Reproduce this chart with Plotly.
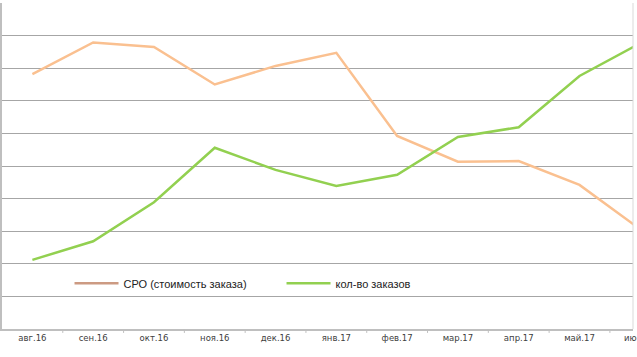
import plotly.graph_objects as go

months = ["авг.16", "сен.16", "окт.16", "ноя.16", "дек.16", "янв.17",
          "фев.17", "мар.17", "апр.17", "май.17", "июн.17"]
cpo = [7.82, 8.79, 8.65, 7.50, 8.07, 8.47, 5.92, 5.13, 5.15, 4.42, 3.06]
orders = [2.12, 2.69, 3.89, 5.56, 4.88, 4.39, 4.73, 5.89, 6.19, 7.76, 8.77]
name_cpo = "СРО (стоимость заказа)"
name_orders = "кол-во заказов"

x_idx = list(range(len(months)))
x_range = [-0.5, 9.88]

fig = go.Figure()
fig.add_trace(go.Scatter(x=x_idx, y=cpo, mode="lines", showlegend=False,
                         line=dict(color="#FAC090", width=2.5)))
fig.add_trace(go.Scatter(x=x_idx, y=orders, mode="lines", showlegend=False,
                         line=dict(color="#92D050", width=2.5)))
# legend entries
fig.add_trace(go.Scatter(x=[None], y=[None], mode="lines", name=name_cpo,
                         line=dict(color="#CC9A82", width=2.5)))
fig.add_trace(go.Scatter(x=[None], y=[None], mode="lines", name=name_orders,
                         line=dict(color="#92D050", width=2.5)))

tick_font = dict(family="DejaVu Sans", size=8.5, color="#404040")

fig.update_layout(
    width=637, height=357,
    margin=dict(l=2, r=4, t=3, b=28),
    paper_bgcolor="white", plot_bgcolor="white",
    showlegend=True,
    legend=dict(orientation="h", x=0.107, y=0.14, xanchor="left", yanchor="middle",
                font=dict(family="Liberation Sans", size=11, color="#222"),
                bgcolor="rgba(0,0,0,0)", itemwidth=44, entrywidth=153,
                entrywidthmode="pixels"),
    xaxis=dict(
        tickmode="array", tickvals=x_idx[:-1], ticktext=months[:-1],
        range=x_range, showgrid=False, zeroline=False,
        showline=True, linecolor="#BFBFBF", linewidth=2,
        ticks="", tickfont=tick_font, fixedrange=True,
    ),
    yaxis=dict(
        range=[0, 10], dtick=1, showgrid=True, gridcolor="#A6A6A6", gridwidth=1,
        showticklabels=False, zeroline=False, showline=True,
        linecolor="#BFBFBF", linewidth=2, ticks="", fixedrange=True,
    ),
)

# tick marks on category boundaries
for b in [i + 0.5 for i in range(10)]:
    fig.add_shape(type="line", xref="x", yref="paper", x0=b, x1=b, y0=0, y1=-0.012,
                  line=dict(color="#BFBFBF", width=1))

# cut-off last label (category 10 lies just past the right edge)
last_pos = (10 - x_range[0]) / (x_range[1] - x_range[0])
fig.add_annotation(x=last_pos, y=0, xref="paper", yref="paper", yshift=-9,
                   text=months[-1], showarrow=False, yanchor="middle", xanchor="center",
                   font=tick_font, borderpad=0)
# right frame line
fig.add_shape(type="line", xref="paper", yref="paper", x0=1, x1=1, y0=0, y1=1,
              line=dict(color="#D9D9D9", width=1))

fig.write_html("out.html", config={"displayModeBar": False},
               post_script="document.body.style.margin='0';document.body.style.overflow='hidden';")
